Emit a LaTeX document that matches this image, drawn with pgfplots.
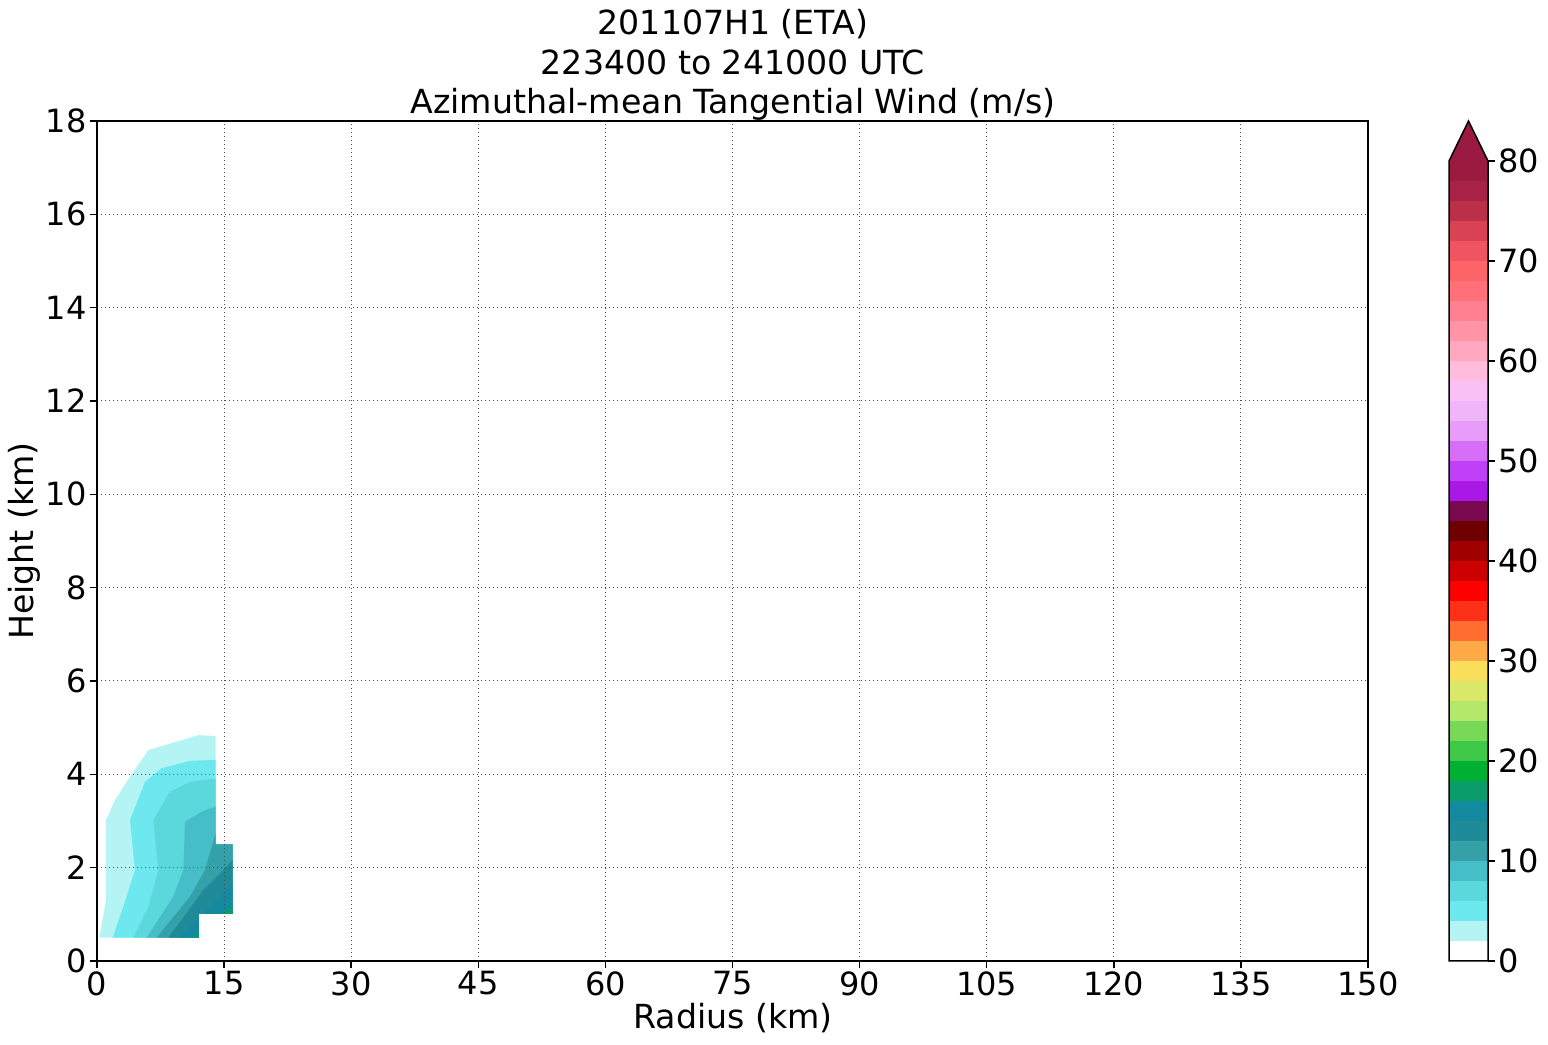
\documentclass[border=0pt]{standalone}
\usepackage{fontspec}
\setmainfont{DejaVu Sans}
\usepackage{pgfplots}
\pgfplotsset{compat=1.18}
\definecolor{c02}{HTML}{B4F4F4}
\definecolor{c04}{HTML}{6CE8EE}
\definecolor{c06}{HTML}{5AD8DC}
\definecolor{c08}{HTML}{46BEC8}
\definecolor{c10}{HTML}{34A0A8}
\definecolor{c12}{HTML}{1F8A98}
\definecolor{c14}{HTML}{148AA0}
\definecolor{c16}{HTML}{0A9C6A}
\definecolor{c18}{HTML}{00B032}
\definecolor{c20}{HTML}{40C848}
\definecolor{c22}{HTML}{78D858}
\definecolor{c24}{HTML}{B4E86A}
\definecolor{c26}{HTML}{DCE86A}
\definecolor{c28}{HTML}{F8DE5A}
\definecolor{c30}{HTML}{FFAA46}
\definecolor{c32}{HTML}{FF6E2E}
\definecolor{c34}{HTML}{FF3018}
\definecolor{c36}{HTML}{FF0000}
\definecolor{c38}{HTML}{CC0000}
\definecolor{c40}{HTML}{A00000}
\definecolor{c42}{HTML}{6E0000}
\definecolor{c44}{HTML}{7A0A50}
\definecolor{c46}{HTML}{AA18E8}
\definecolor{c48}{HTML}{C040F8}
\definecolor{c50}{HTML}{D66EF8}
\definecolor{c52}{HTML}{E69CF8}
\definecolor{c54}{HTML}{F0B4F8}
\definecolor{c56}{HTML}{F8C0F4}
\definecolor{c58}{HTML}{FFBCDC}
\definecolor{c60}{HTML}{FFA8C0}
\definecolor{c62}{HTML}{FF94A6}
\definecolor{c64}{HTML}{FF8090}
\definecolor{c66}{HTML}{FF7078}
\definecolor{c68}{HTML}{FD6468}
\definecolor{c70}{HTML}{EE5560}
\definecolor{c72}{HTML}{D94252}
\definecolor{c74}{HTML}{BB2F48}
\definecolor{c76}{HTML}{A82245}
\definecolor{c78}{HTML}{9A1A40}
\definecolor{c80}{HTML}{9A1A42}
\newcommand\band[3]{\addplot[fill=#1,draw=none] coordinates {(0,#2)(1,#2)(1,#3)(0,#3)};}
\newcommand\tickfont{\fontsize{16bp}{19bp}\selectfont}
\newcommand\labfont{\fontsize{16.6bp}{19bp}\selectfont}
\newcommand\titfont{\fontsize{16.6bp}{20bp}\selectfont}
\begin{document}
\begin{tikzpicture}
\useasboundingbox (0,0) rectangle (774bp,522.5bp);
\begin{axis}[
  at={(48.5bp,42bp)}, anchor=south west, scale only axis,
  width=635.5bp, height=420bp,
  xmin=0, xmax=150, ymin=0, ymax=18,
  xtick={0,15,...,150}, ytick={0,2,...,18},
  grid=major,
  grid style={black!70, line width=0.5bp, dash pattern=on 0.65bp off 1.35bp},
  axis on top,
  axis line style={line width=0.75bp},
  tick style={black, line width=0.75bp},
  major tick length=3.5bp, tick align=outside, tick pos=left,
  ticklabel style={font=\tickfont},
  xticklabel style={inner sep=1.5bp},
  yticklabel style={inner sep=1.5bp},
  /pgf/number format/assume math mode=true,
  every axis plot/.append style={mark=none},
]
% value >= 2
\addplot[fill=c02, draw=none] coordinates {(14,4.82)(12,4.84)(6.06,4.52)(3.9,3.95)(2.12,3.45)(1.06,3.02)(1.06,1.31)(0.28,0.5)(16,0.5)(16,2.5)(14,2.5)};
% value >= 4
\addplot[fill=c04, draw=none] coordinates {(14,4.31)(10.98,4.29)(7.63,4.13)(5.67,3.84)(3.9,3.02)(4.48,1.95)(3.1,1.16)(1.85,0.5)(16,0.5)(16,2.5)(14,2.5)};
% value >= 6
\addplot[fill=c06, draw=none] coordinates {(14,3.91)(10.98,3.84)(8.62,3.63)(6.65,3.02)(7.24,1.95)(6.06,1.16)(4.29,0.5)(16,0.5)(16,2.5)(14,2.5)};
% value >= 8
\addplot[fill=c08, draw=none] coordinates {(14,3.31)(12.35,3.2)(10.39,2.98)(10.19,1.95)(9.0,1.38)(5.86,0.5)(16,0.5)(16,2.5)(14,2.5)};
% value >= 10
\addplot[fill=c10, draw=none] coordinates {(14,2.74)(12.75,1.95)(10.98,1.38)(7.04,0.5)(16,0.5)(16,2.5)(14,2.5)};
% value >= 12
\addplot[fill=c12, draw=none] coordinates {(16,2.16)(14.9,1.95)(12.55,1.52)(8.42,0.5)(16,0.5)};
% value >= 14
\addplot[fill=c14, draw=none] coordinates {(16,1.66)(14.9,1.45)(13.34,1.16)(9.6,0.5)(16,0.5)};
% value >= 16
\addplot[fill=c16, draw=none] coordinates {(16,1.2)(11.37,0.5)(16,0.5)};
% missing data notch
\addplot[fill=white, draw=none] coordinates {(12,0.5)(16.3,0.5)(16.3,1)(12,1)};
\end{axis}
\begin{axis}[
  at={(724.5bp,42bp)}, anchor=south west, scale only axis,
  width=19.5bp, height=400bp,
  xmin=0, xmax=1, ymin=0, ymax=80, clip=false,
  xtick=\empty, ytick={0,10,...,80},
  ytick pos=right, yticklabel pos=right,
  axis line style={draw=none},
  tick style={black, line width=0.75bp},
  major tick length=3.5bp, tick align=outside,
  ticklabel style={font=\tickfont},
  yticklabel style={inner sep=1.5bp},
  /pgf/number format/assume math mode=true,
  every axis plot/.append style={mark=none},
]
\band{white}{0}{2}
\band{c02}{2}{4}
\band{c04}{4}{6}
\band{c06}{6}{8}
\band{c08}{8}{10}
\band{c10}{10}{12}
\band{c12}{12}{14}
\band{c14}{14}{16}
\band{c16}{16}{18}
\band{c18}{18}{20}
\band{c20}{20}{22}
\band{c22}{22}{24}
\band{c24}{24}{26}
\band{c26}{26}{28}
\band{c28}{28}{30}
\band{c30}{30}{32}
\band{c32}{32}{34}
\band{c34}{34}{36}
\band{c36}{36}{38}
\band{c38}{38}{40}
\band{c40}{40}{42}
\band{c42}{42}{44}
\band{c44}{44}{46}
\band{c46}{46}{48}
\band{c48}{48}{50}
\band{c50}{50}{52}
\band{c52}{52}{54}
\band{c54}{54}{56}
\band{c56}{56}{58}
\band{c58}{58}{60}
\band{c60}{60}{62}
\band{c62}{62}{64}
\band{c64}{64}{66}
\band{c66}{66}{68}
\band{c68}{68}{70}
\band{c70}{70}{72}
\band{c72}{72}{74}
\band{c74}{74}{76}
\band{c76}{76}{78}
\band{c78}{78}{80}
\addplot[fill=c80, draw=none] coordinates {(0,80)(0.5,84)(1,80)};
\addplot[black, line width=0.75bp, line join=miter] coordinates {(0,80)(0.5,84)(1,80)(1,0)(0,0)(0,80)};
\end{axis}
\node[font=\titfont, anchor=base] at (366.5bp,505bp) {201107H1 (ETA)};
\node[font=\titfont, anchor=base] at (366.5bp,485bp) {223400 to 241000 UTC};
\node[font=\titfont, anchor=base] at (366.5bp,465.85bp) {Azimuthal-mean Tangential Wind (m/s)};
\node[font=\labfont, anchor=base] at (366.5bp,8.5bp) {Radius (km)};
\node[font=\labfont, anchor=base, rotate=90] at (16.65bp,252bp) {Height (km)};
\end{tikzpicture}
\end{document}
